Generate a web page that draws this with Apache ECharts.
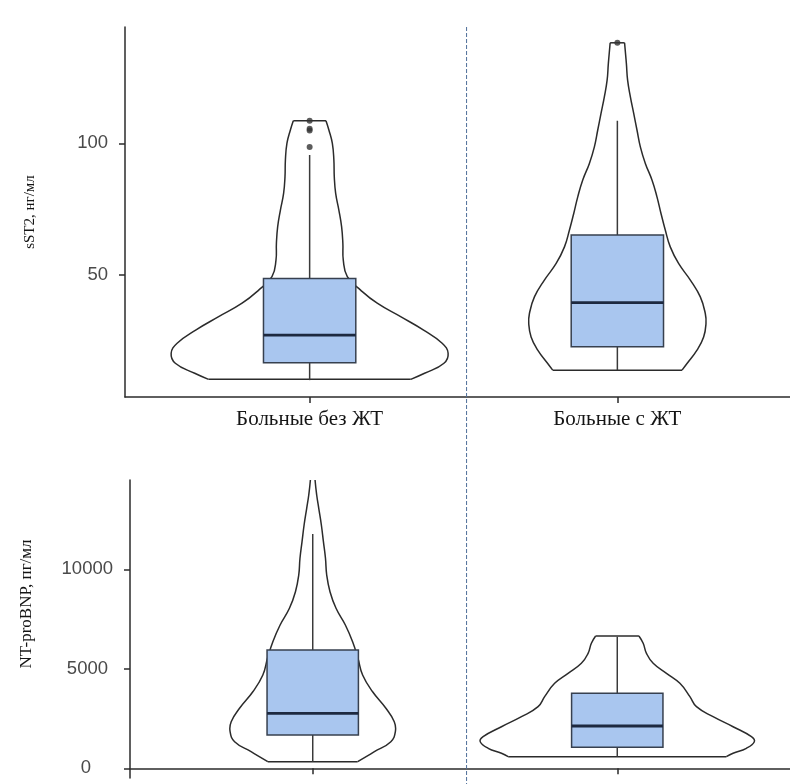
<!DOCTYPE html>
<html>
<head>
<meta charset="utf-8">
<script src="https://cdn.jsdelivr.net/npm/echarts@6/dist/echarts.min.js"></script>
<style>
  html, body { margin: 0; padding: 0; background: #ffffff; }
  #chart { width: 790px; height: 784px; }
</style>
</head>
<body>
<div id="chart"></div>
<script>
// Groups on the x axis (positions 1 and 2)
const groups = ['Больные без ЖТ', 'Больные с ЖТ'];
const groupPos = [1, 2];

// Tick values of the two y axes
const sst2Ticks = [50, 100];
const ntTicks = [0, 5000, 10000];

// Axis ranges
const sst2Range = [3.7, 144.2];
const ntRange = [-487, 14487];

// Five-number summaries: [lower whisker, Q1, median, Q3, upper whisker]
const sst2Box = [
  [10.1, 16.7, 27.2, 48.7, 95.6],
  [13.9, 22.8, 39.5, 65.2, 108.6]
];
const ntBox = [
  [332, 1673, 2764, 5945, 11774],
  [583, 1055, 2126, 3769, 6613]
];

// Outlying observations: [group position, value]
const sst2Outliers = [[1, 108.6], [1, 105.6], [1, 104.9], [1, 98.6], [2, 138.2]];

// Density outlines: [value, width relative to the widest violin of the panel]
const sst2DensityNoVT = [
  [10.4, 0.73], [12.7, 0.83], [16.5, 0.97], [20.3, 1.0], [24.1, 0.957],
  [29.1, 0.823], [34.2, 0.657], [39.3, 0.488], [44.3, 0.368], [49.4, 0.272],
  [55.7, 0.243], [62.0, 0.240], [68.3, 0.231], [74.7, 0.211], [81.0, 0.188],
  [87.3, 0.178], [93.7, 0.175], [100.0, 0.164], [105.1, 0.139], [108.6, 0.118]
];
const sst2DensityVT = [
  [13.9, 0.467], [16.4, 0.503], [21.5, 0.575], [26.5, 0.623], [31.6, 0.640],
  [35.4, 0.635], [41.7, 0.599], [48.1, 0.527], [54.4, 0.442], [60.7, 0.382],
  [67.1, 0.346], [73.4, 0.315], [79.7, 0.286], [86.1, 0.250], [92.4, 0.202],
  [98.7, 0.166], [105.0, 0.142], [111.4, 0.118], [117.7, 0.094], [124.0, 0.074],
  [130.4, 0.065], [138.2, 0.052]
];
const ntDensityNoVT = [
  [332, 0.328], [834, 0.450], [1337, 0.570], [1839, 0.603], [2342, 0.595],
  [3015, 0.534], [3849, 0.437], [4688, 0.364], [5528, 0.330], [6362, 0.291],
  [7201, 0.238], [8040, 0.170], [8874, 0.126], [9713, 0.102], [10553, 0.093],
  [11387, 0.078], [12226, 0.063], [13065, 0.044], [13733, 0.029], [14487, 0.017],
  [15300, 0.010]
];
const ntDensityVT = [
  [583, 0.796], [754, 0.845], [1005, 0.942], [1337, 1.0], [1588, 0.979],
  [2090, 0.845], [2593, 0.699], [3097, 0.578], [3600, 0.530], [4271, 0.457],
  [4774, 0.359], [5276, 0.262], [5779, 0.213], [6281, 0.189], [6648, 0.158]
];

const MAX_HALF = 0.45;   // half of the widest violin, in x units
const BOX_HALF = 0.15;   // half of the box width, in x units
const DIVIDER = 1.51;    // separator between the two groups

const INK = '#2b2b2b';
const BOX_FILL = '#a9c6ef';

// Violin outline: two smoothed flanks joined by straight caps at the data extremes
function violinSeries(gi, pos, profile) {
  return {
    type: 'custom',
    xAxisIndex: gi, yAxisIndex: gi,
    clip: true, silent: true, z: 1,
    data: [[pos]],
    renderItem: function (params, api) {
      const right = profile.map(p => api.coord([pos + p[1] * MAX_HALF, p[0]]));
      const left = profile.map(p => api.coord([pos - p[1] * MAX_HALF, p[0]]));
      const n = profile.length - 1;
      const stroke = { fill: null, stroke: INK, lineWidth: 1.5 };
      return {
        type: 'group',
        children: [
          { type: 'polygon', shape: { points: right.concat(left.slice().reverse()) },
            style: { fill: '#ffffff', stroke: null } },
          { type: 'polyline', shape: { points: right, smooth: 0.45 }, style: stroke },
          { type: 'polyline', shape: { points: left, smooth: 0.45 }, style: stroke },
          { type: 'line', shape: { x1: left[0][0], y1: left[0][1], x2: right[0][0], y2: right[0][1] }, style: stroke },
          { type: 'line', shape: { x1: left[n][0], y1: left[n][1], x2: right[n][0], y2: right[n][1] }, style: stroke }
        ]
      };
    }
  };
}

function boxSeries(gi, stats) {
  return {
    type: 'custom',
    xAxisIndex: gi, yAxisIndex: gi,
    clip: true, silent: true, z: 2,
    data: stats.map((s, i) => [groupPos[i]].concat(s)),
    renderItem: function (params, api) {
      const x = api.value(0);
      const lo = api.value(1), q1 = api.value(2), med = api.value(3), q3 = api.value(4), hi = api.value(5);
      const pLo = api.coord([x, lo]), pQ1 = api.coord([x, q1]);
      const pQ3 = api.coord([x, q3]), pHi = api.coord([x, hi]);
      const tl = api.coord([x - BOX_HALF, q3]), br = api.coord([x + BOX_HALF, q1]);
      const mL = api.coord([x - BOX_HALF, med]), mR = api.coord([x + BOX_HALF, med]);
      const whisker = { stroke: '#3a3a3a', lineWidth: 1.5 };
      return {
        type: 'group',
        children: [
          { type: 'line', shape: { x1: pLo[0], y1: pLo[1], x2: pQ1[0], y2: pQ1[1] }, style: whisker },
          { type: 'line', shape: { x1: pQ3[0], y1: pQ3[1], x2: pHi[0], y2: pHi[1] }, style: whisker },
          { type: 'rect', shape: { x: tl[0], y: tl[1], width: br[0] - tl[0], height: br[1] - tl[1] },
            style: { fill: BOX_FILL, stroke: '#37404f', lineWidth: 1.5 } },
          { type: 'line', shape: { x1: mL[0], y1: mL[1], x2: mR[0], y2: mR[1] },
            style: { stroke: '#1d2940', lineWidth: 2.8 } }
        ]
      };
    }
  };
}

function xAxis(gi) {
  return {
    type: 'value', gridIndex: gi, min: 0.4, max: 2.6,
    splitLine: { show: false },
    axisLine: { show: true, lineStyle: { color: INK, width: 1.5 } },
    axisTick: { show: true, customValues: groupPos, length: 6, lineStyle: { color: INK, width: 1.5 } },
    axisLabel: {
      customValues: groupPos,
      formatter: v => groups[Math.round(v) - 1],
      fontFamily: 'Liberation Serif', fontSize: 21, color: '#151515', margin: 12
    }
  };
}

// Extra right-hand indent of individual tick labels (keyed by tick value)
function yAxis(gi, range, ticks, name, nameGap, nameSize, namePad, labelIndent) {
  const indent = labelIndent || {};
  return {
    type: 'value', gridIndex: gi, min: range[0], max: range[1],
    splitLine: { show: false },
    axisLine: { show: true, lineStyle: { color: INK, width: 1.5 } },
    axisTick: { show: true, customValues: ticks, length: 6, lineStyle: { color: INK, width: 1.5 } },
    axisLabel: {
      customValues: ticks,
      formatter: v => (indent[v] ? '{i' + indent[v] + '|' + v + '}' : String(v)),
      rich: Object.fromEntries(Object.values(indent).map(p => ['i' + p, { padding: [0, p, 0, 0] }])),
      fontFamily: 'Liberation Sans', fontSize: 18.5, color: '#4a4a4a', margin: 17
    },
    name: name, nameLocation: 'middle', nameGap: nameGap,
    nameTextStyle: { fontFamily: 'Liberation Serif', fontSize: nameSize, color: '#151515', padding: namePad }
  };
}

const chart = echarts.init(document.getElementById('chart'), null, { renderer: 'canvas' });

chart.setOption({
  animation: false,
  backgroundColor: '#ffffff',
  grid: [
    { left: 125, right: -12, top: 27, bottom: 387, containLabel: false, outerBoundsMode: 'none' },
    { left: 130, right: -10, top: 480, bottom: 6, containLabel: false, outerBoundsMode: 'none' }
  ],
  xAxis: [xAxis(0), xAxis(1)],
  yAxis: [
    yAxis(0, sst2Range, sst2Ticks, 'sST2, нг/мл', 87, 15, [0, 0, 0, 0]),
    yAxis(1, ntRange, ntTicks, 'NT-proBNP, пг/мл', 95, 17, [0, 0, 0, 50], { 0: 22, 5000: 5 })
  ],
  series: [
    violinSeries(0, groupPos[0], sst2DensityNoVT),
    violinSeries(0, groupPos[1], sst2DensityVT),
    boxSeries(0, sst2Box),
    {
      type: 'scatter', xAxisIndex: 0, yAxisIndex: 0, z: 3, silent: true,
      data: sst2Outliers, symbolSize: 6,
      itemStyle: { color: '#333333' }
    },
    violinSeries(1, groupPos[0], ntDensityNoVT),
    violinSeries(1, groupPos[1], ntDensityVT),
    boxSeries(1, ntBox)
  ]
});

// Dashed separator between the two patient groups, running through both panels
const dividerTop = chart.convertToPixel({ gridIndex: 0 }, [DIVIDER, sst2Range[1]]);
chart.setOption({
  graphic: [{
    type: 'line', silent: true, z: 10,
    shape: { x1: dividerTop[0], y1: dividerTop[1], x2: dividerTop[0], y2: chart.getHeight() },
    style: { stroke: '#4e6e99', lineWidth: 1, lineDash: [4, 2] }
  }]
});
</script>
</body>
</html>
